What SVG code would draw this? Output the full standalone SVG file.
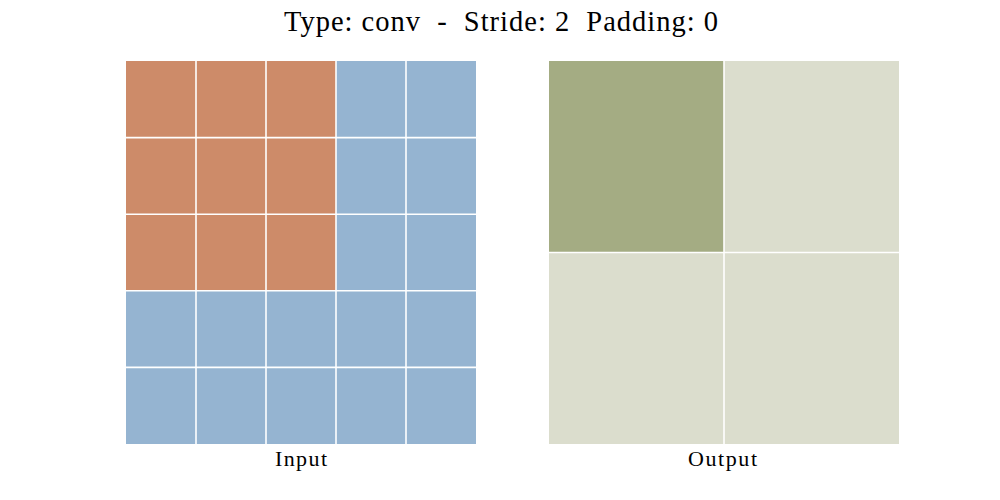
<svg xmlns="http://www.w3.org/2000/svg" width="1000" height="500" viewBox="0 0 1000 500">
<style>
.o{fill:#CD8B69}.b{fill:#95B4D1}.g{fill:#A4AC83}.l{fill:#DBDDCD}
.grid line{stroke:#fff;stroke-width:1.6}
text{font-family:"Liberation Serif","DejaVu Serif",serif;fill:#000}
</style>
<rect width="1000" height="500" fill="#fff"/>
<text x="284" y="31" font-size="28.5" xml:space="preserve" textLength="434" lengthAdjust="spacing">Type: conv  -  Stride: 2  Padding: 0</text>
<g id="input">
<rect class="b" x="126" y="61" width="350" height="383"/>
<rect class="o" x="126" y="61" width="210" height="230"/>
<g class="grid">
<line x1="196" y1="61" x2="196" y2="444"/><line x1="266" y1="61" x2="266" y2="444"/>
<line x1="336" y1="61" x2="336" y2="444"/><line x1="406" y1="61" x2="406" y2="444"/>
<line x1="126" y1="137.6" x2="476" y2="137.6"/><line x1="126" y1="214.2" x2="476" y2="214.2"/>
<line x1="126" y1="290.8" x2="476" y2="290.8"/><line x1="126" y1="367.4" x2="476" y2="367.4"/>
</g>
<text x="275" y="466" font-size="22" textLength="52" lengthAdjust="spacing">Input</text>
</g>
<g id="output">
<rect class="l" x="549" y="61" width="350" height="383"/>
<rect class="g" x="549" y="61" width="175" height="191.5"/>
<g class="grid">
<line x1="724" y1="61" x2="724" y2="444"/><line x1="549" y1="252.5" x2="899" y2="252.5"/>
</g>
<text x="688" y="466" font-size="22" textLength="69" lengthAdjust="spacing">Output</text>
</g>
</svg>
